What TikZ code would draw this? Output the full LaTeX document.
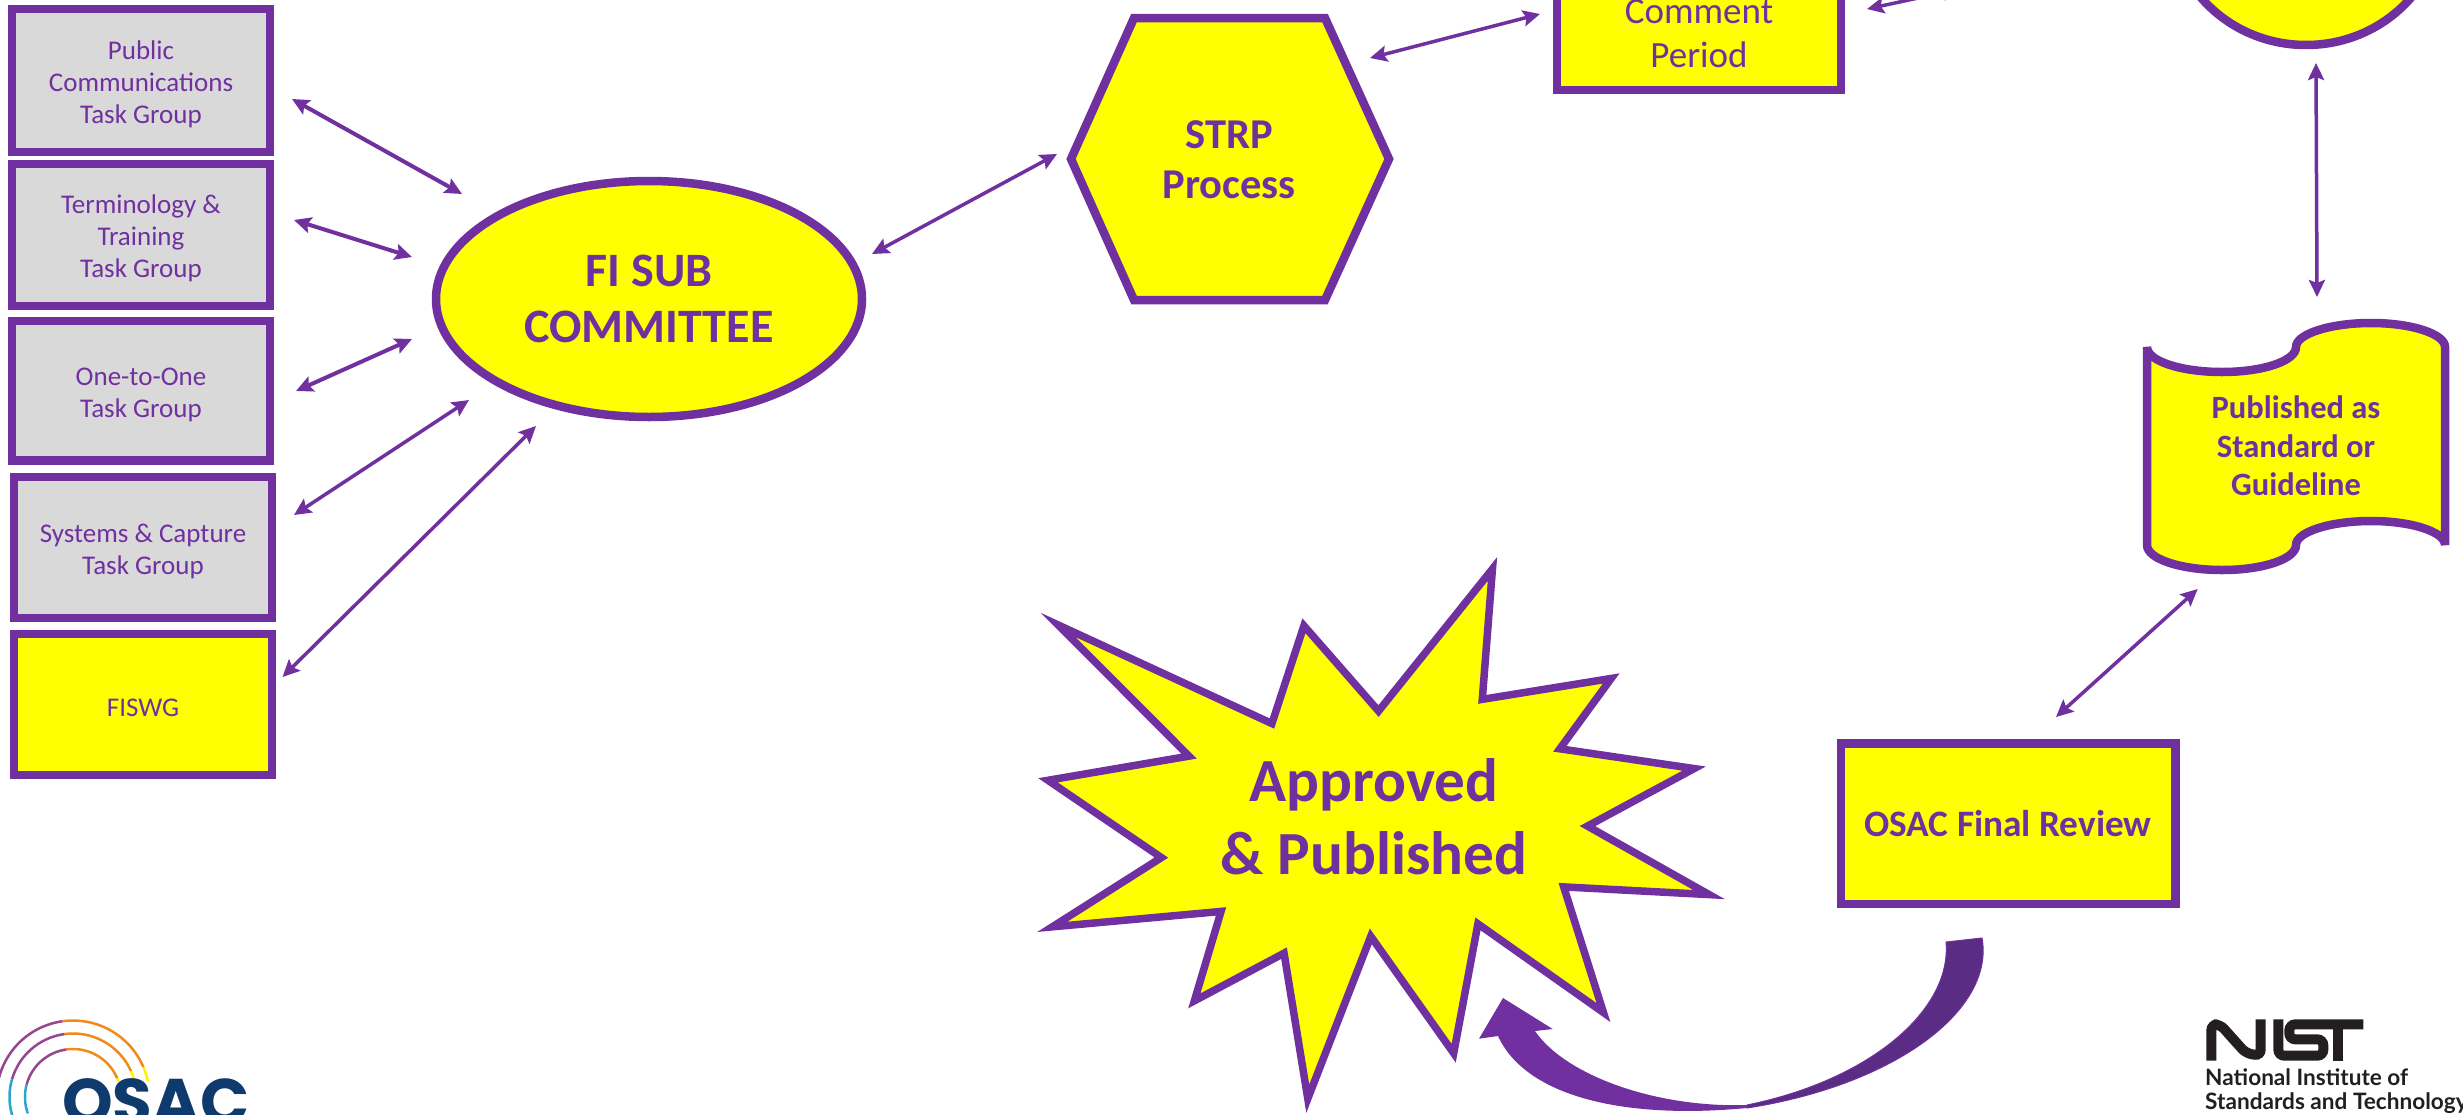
\documentclass[tikz,border=0pt]{standalone}
\usepackage{fontspec}
\usetikzlibrary{arrows.meta,shapes.geometric}
\setmainfont{Carlito}
\newfontfamily\osacfont{Poppins}
\newfontfamily\nistfont{Lato}
\definecolor{vio}{HTML}{7030A0}
\definecolor{viodark}{HTML}{5B2C83}
\definecolor{yel}{HTML}{FFFF00}
\definecolor{gry}{HTML}{D9D9D9}
\definecolor{navy}{HTML}{0F3A6E}
\definecolor{lgpurple}{HTML}{96458F}
\definecolor{lgorange}{HTML}{F08A1D}
\definecolor{lgyellow}{HTML}{FFF200}
\definecolor{lgblue}{HTML}{2BA6CB}
\definecolor{nistblack}{HTML}{231F20}
\newcommand{\sz}[2]{\fontsize{#1}{#2}\selectfont}
\newcommand{\tdn}{\rule{0pt}{26pt}}
\newcommand{\logoarc}[4]{\draw[#4,line width=2.5pt] plot[domain=#2:#3,samples=24] ({73+#1*cos(\x)},{1097-#1*sin(\x)});}
\tikzset{
  outl/.style={draw=vio,line width=8.5pt,text=vio,inner sep=0pt,align=center,miter limit=10},
  taskbox/.style={outl,rectangle,fill=gry,minimum width=258pt,font=\sz{27}{32}},
  ybox/.style={outl,rectangle,fill=yel},
  yell/.style={outl,ellipse,fill=yel},
  lbl/.style={text=vio,inner sep=0pt,align=center},
  conn/.style={draw=vio,line width=4pt,{Stealth[length=17pt,width=16pt,inset=3pt]}-{Stealth[length=17pt,width=16pt,inset=3pt]}},
  thinconn/.style={conn,line width=3.5pt}
}
\begin{document}
\begin{tikzpicture}[x=1pt,y=-1pt]
\useasboundingbox (0,0) rectangle (2463,1114);
\clip (0,0) rectangle (2463,1114);
% task groups
\node[taskbox,minimum height=143pt] (pub) at (141,80.5) {\tdn Public\\Communications\\Task Group};
\node[taskbox,minimum height=142pt] (term) at (141,235) {\tdn Terminology \&\\Training\\Task Group};
\node[taskbox,minimum height=139.5pt] (one) at (141,390.5) {\tdn One-to-One\\Task Group};
\node[taskbox,minimum height=141pt] (sys) at (143,547.5) {\tdn Systems \& Capture\\Task Group};
\node[ybox,minimum width=258pt,minimum height=141pt,font=\sz{27}{32}] (fiswg) at (143,704.5) {\rule{0pt}{23.5pt}FISWG};
% FI sub committee
\node[yell,minimum width=426pt,minimum height=236pt,font=\bfseries\sz{48}{56}] (fi) at (649,299) {FI SUB\\COMMITTEE};
% hexagon
\draw[draw=vio,fill=yel,line width=8.5pt,miter limit=10] (1134,18) -- (1325,18) -- (1389,159) -- (1325,300) -- (1134,300) -- (1071,159) -- cycle;
\node[lbl,font=\bfseries\sz{42.5}{50}] (strp) at (1229,160) {STRP\\Process};
% comment period
\node[ybox,minimum width=284pt,minimum height=112pt,font=\sz{37}{44}] (comment) at (1699,34) {Comment\\Period};
% circle at top right
\node[yell,minimum width=272pt,minimum height=260pt] (topell) at (2306,-85) {};
% published shape
\draw[draw=vio,fill=yel,line width=8.5pt,miter limit=10] (2147,347) .. controls (2147,361) and (2181,372) .. (2222,372) .. controls (2263,372) and (2296,361) .. (2296,347) .. controls (2296,334) and (2330,323) .. (2371,323) .. controls (2412,323) and (2445,334) .. (2445,347) -- (2445,545) .. controls (2445,532) and (2412,521) .. (2371,521) .. controls (2330,521) and (2296,532) .. (2296,545) .. controls (2296,559) and (2263,570) .. (2222,570) .. controls (2181,570) and (2147,559) .. (2147,545) -- cycle;
\node[lbl,font=\bfseries\sz{32.5}{38.5}] (published) at (2296,446) {Published as\\Standard or\\Guideline};
% final review
\node[ybox,minimum width=334.5pt,minimum height=160.5pt,font=\bfseries\sz{37.3}{44}] (final) at (2008,823.5) {OSAC Final Review};
% star
\begin{scope}[shift={(1000,540)},xscale=0.4847,yscale=0.3663]
\draw[draw=vio,fill=yel,line width=7.5pt,miter limit=12]
 (120,232) -- (561,501) -- (627,234) -- (781,467) -- (1016,79) -- (995,435) -- (1261,378) -- (1155,570) -- (1432,624) -- (1212,781) -- (1463,968) -- (1163,947) -- (1245,1290) -- (986,1048) -- (936,1401) -- (765,1082) -- (635,1525) -- (586,1128) -- (401,1258) -- (456,1014) -- (108,1056) -- (333,867) -- (99,656) -- (390,590) -- cycle;
\end{scope}
\node[lbl,font=\bfseries\sz{61.3}{73}] (approved) at (1374,817) {Approved\\\& Published};
% connector ends
\coordinate (a1s) at (292,99);   \coordinate (a1e) at (462,194);
\coordinate (a2s) at (294,220);  \coordinate (a2e) at (412,257);
\coordinate (a3s) at (296,391);  \coordinate (a3e) at (412,339);
\coordinate (a4s) at (294,515);  \coordinate (a4e) at (469,400);
\coordinate (a5s) at (282.5,677);\coordinate (a5e) at (536,426);
\coordinate (a6s) at (872,254);  \coordinate (a6e) at (1057,154);
\coordinate (a7s) at (1370,58);  \coordinate (a7e) at (1540,14);
\coordinate (a8s) at (1867,9);   \coordinate (a8e) at (1960,-11);
\coordinate (a9s) at (2316,63);  \coordinate (a9e) at (2317,297);
\coordinate (a10s) at (2197.7,589); \coordinate (a10e) at (2056,717);
\draw[conn] (a1s) -- (a1e);
\draw[conn] (a2s) -- (a2e);
\draw[conn] (a3s) -- (a3e);
\draw[thinconn] (a4s) -- (a4e);
\draw[thinconn] (a5s) -- (a5e);
\draw[thinconn] (a6s) -- (a6e);
\draw[thinconn] (a7s) -- (a7e);
\draw[thinconn] (a8s) -- (a8e);
\draw[thinconn] (a9s) -- (a9e);
\draw[thinconn] (a10s) -- (a10e);
% big curved arrow
\draw[draw=vio,fill=viodark,line width=1pt] (1946,942) .. controls (1952,1010) and (1870,1080) .. (1747,1105) -- (1747,1108) .. controls (1895,1085) and (1995,1010) .. (1982,938) -- cycle;
\fill[vio] (1747,1105) .. controls (1655,1108) and (1565,1075) .. (1535,1031) -- (1552.7,1029) -- (1503,998) -- (1479,1038.7) -- (1498,1036) .. controls (1525,1095) and (1620,1120) .. (1747,1108) -- cycle;
% OSAC logo
\logoarc{76.5}{98}{23}{lgorange}
\logoarc{76.5}{23}{12}{lgyellow}
\logoarc{76.5}{98}{185}{lgpurple}
\logoarc{63.5}{98}{24}{lgorange}
\logoarc{63.5}{24}{15.6}{lgyellow}
\logoarc{63.5}{98}{164}{lgpurple}
\logoarc{63.5}{164}{200}{lgblue}
\logoarc{48}{98}{23}{lgorange}
\logoarc{48}{23}{19}{lgyellow}
\logoarc{48}{98}{165}{lgpurple}
\logoarc{48}{165}{200}{lgblue}
\node[anchor=base west,inner sep=0pt,text=navy,font=\osacfont\bfseries\sz{64.5}{70}] (osac) at (62,1124) {OSAC};
% NIST logo
\begin{scope}[shift={(2190,1010)},xscale=1/3,yscale=1/3]
\draw[draw=nistblack,line width=10pt,rounded corners=6pt,line cap=butt]
 (64,152) -- (64,43) -- (90,43) -- (168,130) -- (212,137) -- (212,28);
\draw[draw=nistblack,line width=10pt,rounded corners=6pt,line cap=butt]
 (265,28) -- (265,137) -- (400,137) -- (400,88) -- (298,88) -- (298,43) -- (520,43);
\draw[draw=nistblack,line width=10pt,line cap=butt] (445,43) -- (445,152);
\end{scope}
\node[anchor=base west,inner sep=0pt,text=nistblack,font=\nistfont\bfseries\sz{22.6}{24}] (nist1) at (2205,1085) {National Institute of};
\node[anchor=base west,inner sep=0pt,text=nistblack,font=\nistfont\bfseries\sz{22.6}{24}] (nist2) at (2205,1109) {Standards and Technology};
\end{tikzpicture}
\end{document}
